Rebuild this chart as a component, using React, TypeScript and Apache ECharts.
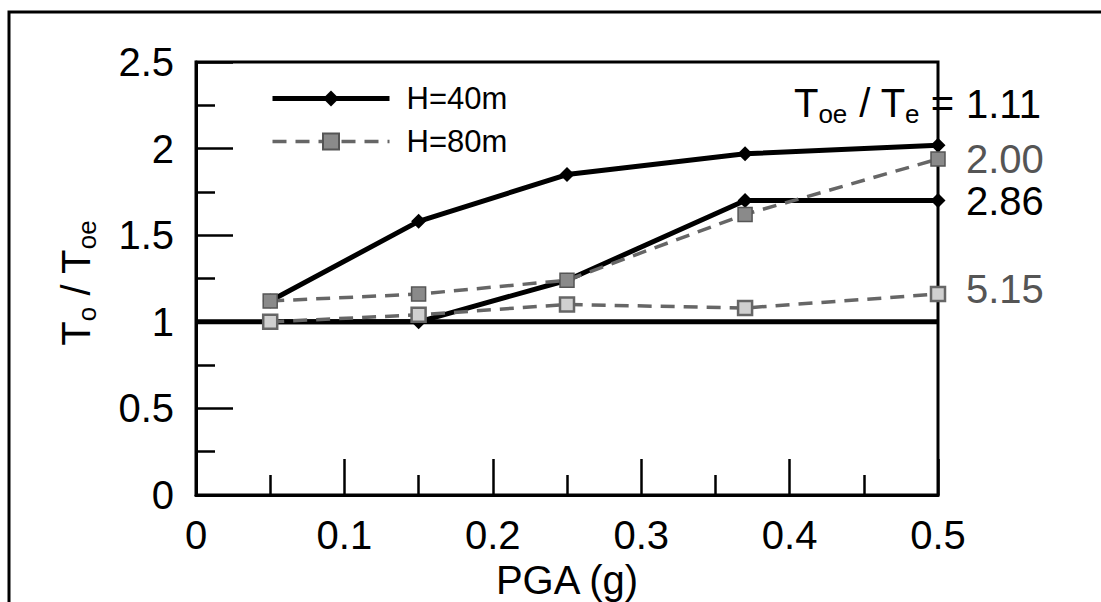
import React, { useEffect, useRef } from "react";
import * as echarts from "echarts";

// ---- data ----
const PGA = [0.05, 0.15, 0.25, 0.37, 0.5];
const H40_R111 = [1.12, 1.58, 1.85, 1.97, 2.02];
const H40_R286 = [1.0, 1.0, 1.24, 1.7, 1.7];
const H80_R200 = [1.12, 1.16, 1.24, 1.62, 1.94];
const H80_R515 = [1.0, 1.04, 1.1, 1.08, 1.16];
const RATIO_LABELS = ["1.11", "2.86", "2.00", "5.15"];
const REF_X = [0, 0.5];
const REF_Y = [1, 1];
const SERIES_NAMES = ["H=40m", "H=80m"];
const X_AXIS_TITLE = "PGA (g)";

const FONT = "'Liberation Sans', Arial, Helvetica, sans-serif";

const pairs = (xs: number[], ys: number[]) => xs.map((x, i) => [x, ys[i]]);

export default function App() {
  const ref = useRef<HTMLDivElement>(null);

  useEffect(() => {
    if (!ref.current) return;
    const chart = echarts.init(ref.current, null, { renderer: "svg" });

    const solidLine = () => ({ color: "#000", width: 5 });
    const dashedLine = () => ({ color: "#666", width: 3.5, type: [14, 9] });

    const endLabel = (text: string, color: string, offset: number[]) => ({
      show: true,
      formatter: text,
      distance: 28,
      offset,
      color,
      fontSize: 40,
      fontFamily: FONT,
    });

    const subRich = {
      a: { fontSize: 40, lineHeight: 40, verticalAlign: "top", fontFamily: FONT, color: "#000" },
      s: { fontSize: 26, lineHeight: 26, padding: [22, 0, 0, 0], fontFamily: FONT, color: "#000" },
    };

    const option: any = {
      animation: false,
      backgroundColor: "#fff",
      grid: {
        left: 196,
        top: 62,
        width: 742,
        height: 433,
        containLabel: false,
        outerBoundsMode: "none",
        show: true,
        borderColor: "#000",
        borderWidth: 3,
        backgroundColor: "transparent",
      },
      legend: {
        data: [
          { name: SERIES_NAMES[0], lineStyle: { width: 5, color: "#000" } },
          { name: SERIES_NAMES[1], lineStyle: { width: 3.5, color: "#666", type: [14, 9] } },
        ],
        orient: "vertical",
        left: 265,
        top: 78,
        itemWidth: 117,
        itemHeight: 20,
        itemGap: 12,
        textStyle: {
          fontSize: 31,
          lineHeight: 24,
          fontFamily: FONT,
          color: "#000",
          padding: [0, 0, 0, 12],
        },
      },
      xAxis: {
        type: "value",
        min: 0,
        max: 0.5,
        interval: 0.1,
        name: X_AXIS_TITLE,
        nameLocation: "middle",
        nameGap: 58,
        nameTextStyle: { fontSize: 40, fontFamily: FONT, color: "#000" },
        axisLine: { show: true, lineStyle: { color: "#000", width: 3 } },
        axisTick: { show: true, inside: true, length: 36, lineStyle: { color: "#000", width: 2.5 } },
        minorTick: { show: true, splitNumber: 2, length: 20, lineStyle: { color: "#000", width: 2.5 } },
        splitLine: { show: false },
        axisLabel: {
          margin: 20,
          fontSize: 40,
          fontFamily: FONT,
          color: "#000",
          showMinLabel: true,
          showMaxLabel: true,
        },
      },
      yAxis: {
        type: "value",
        min: 0,
        max: 2.5,
        interval: 0.5,
        axisLine: { show: true, lineStyle: { color: "#000", width: 3 } },
        axisTick: { show: true, inside: true, length: 37, lineStyle: { color: "#000", width: 2.5 } },
        minorTick: { show: true, splitNumber: 2, length: 19, lineStyle: { color: "#000", width: 2.5 } },
        splitLine: { show: false },
        axisLabel: {
          margin: 22,
          fontSize: 40,
          fontFamily: FONT,
          color: "#000",
          showMinLabel: true,
          showMaxLabel: true,
        },
      },
      series: [
        {
          name: "ref",
          type: "line",
          data: pairs(REF_X, REF_Y),
          symbol: "none",
          lineStyle: { color: "#000", width: 5 },
          z: 2,
        },
        {
          name: SERIES_NAMES[0],
          type: "line",
          data: pairs(PGA, H40_R111),
          symbol: "diamond",
          symbolSize: 15,
          itemStyle: { color: "#000" },
          lineStyle: solidLine(),
          endLabel: endLabel(RATIO_LABELS[0], "#000", [0, -41]),
          z: 3,
        },
        {
          name: SERIES_NAMES[0],
          type: "line",
          data: pairs(PGA, H40_R286),
          symbol: "diamond",
          symbolSize: 15,
          itemStyle: { color: "#000" },
          lineStyle: solidLine(),
          endLabel: endLabel(RATIO_LABELS[1], "#000", [0, 0]),
          z: 3,
        },
        {
          name: SERIES_NAMES[1],
          type: "line",
          data: pairs(PGA, H80_R200),
          symbol: "rect",
          symbolSize: 14,
          itemStyle: { color: "#8a8a8a", borderColor: "#555", borderWidth: 1.5 },
          lineStyle: dashedLine(),
          endLabel: endLabel(RATIO_LABELS[2], "#555", [0, 0]),
          z: 4,
        },
        {
          name: SERIES_NAMES[1],
          type: "line",
          data: pairs(PGA, H80_R515),
          symbol: "rect",
          symbolSize: 14,
          itemStyle: { color: "#d0d0d0", borderColor: "#666", borderWidth: 2.5 },
          lineStyle: dashedLine(),
          endLabel: endLabel(RATIO_LABELS[3], "#555", [0, -5]),
          z: 4,
        },
      ],
      graphic: [
        {
          type: "rect",
          shape: { x: 9, y: 12, width: 1200, height: 700 },
          style: { fill: "none", stroke: "#000", lineWidth: 3 },
          silent: true,
        },
        {
          type: "text",
          x: 56,
          y: 283,
          rotation: Math.PI / 2,
          style: {
            text: "{a|T}{s|o}{a| / T}{s|oe}",
            rich: subRich,
            align: "center",
            verticalAlign: "top",
          },
        },
        {
          type: "text",
          x: 954,
          y: 83,
          style: {
            text: "{a|T}{s|oe}{a| / T}{s|e}{a| =}",
            rich: subRich,
            align: "right",
            verticalAlign: "top",
          },
        },
      ],
    };

    chart.setOption(option);
    return () => chart.dispose();
  }, []);

  return (
    <div
      ref={ref}
      style={{ position: "absolute", left: 0, top: 0, width: 1101, height: 602, background: "#fff" }}
    />
  );
}
